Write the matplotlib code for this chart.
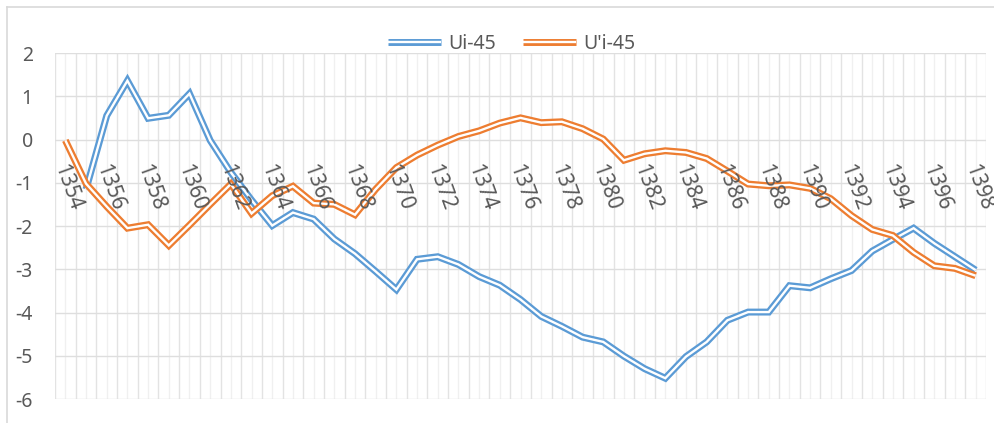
import numpy as np
import matplotlib
matplotlib.use("Agg")
import matplotlib.pyplot as plt
from matplotlib.lines import Line2D
from matplotlib.legend_handler import HandlerTuple
from matplotlib.transforms import ScaledTranslation

# data
years = list(range(1354, 1399))
ui_45 = [np.nan, -1.15, 0.55, 1.36, 0.49, 0.56, 1.06, -0.02, -0.76, -1.40,
         -1.99, -1.69, -1.84, -2.30, -2.64, -3.05, -3.47, -2.77, -2.71, -2.89,
         -3.17, -3.37, -3.70, -4.09, -4.32, -4.57, -4.68, -5.01, -5.30, -5.52,
         -5.02, -4.68, -4.18, -3.99, -3.99, -3.38, -3.43, -3.22, -3.03, -2.58,
         -2.31, -2.05, -2.40, -2.71, -3.02]
u_prime_45 = [-0.02, -1.02, -1.55, -2.05, -1.97, -2.45, -1.98, -1.50, -1.03, -1.71,
              -1.30, -1.08, -1.47, -1.50, -1.74, -1.15, -0.65, -0.36, -0.13, 0.07,
              0.20, 0.38, 0.50, 0.39, 0.41, 0.25, 0.01, -0.48, -0.33, -0.26,
              -0.30, -0.44, -0.73, -1.03, -1.07, -1.05, -1.13, -1.37, -1.76, -2.08,
              -2.22, -2.61, -2.92, -2.98, -3.15]
series_names = ["Ui-45", "U'i-45"]
series_colors = ["#5B9BD5", "#ED7D31"]
y_ticks = list(range(-6, 3))

plt.rcParams['font.family'] = ['Noto Sans', 'DejaVu Sans']
text_color = "#595959"

W, H = 995, 423
fig = plt.figure(figsize=(W / 100, H / 100), dpi=100)
ax = fig.add_axes([55 / W, 1 - 399 / H, (986 - 55) / W, (399 - 53) / H])
ax.set_axisbelow(False)  # year labels sit on top of the lines, as in Excel

x = np.arange(len(years))

# grid: category boundaries, category centres, value lines
for b in np.arange(len(years) + 1) - 0.5:
    ax.axvline(b, color="#e3e3e3", lw=1.0, zorder=0)
for c in x:
    ax.axvline(c, color="#f0f0f0", lw=1.0, zorder=0)
for v in y_ticks:
    ax.axhline(v, color="#dedede", lw=1.0, zorder=0)

# double ("compound") lines like Excel
handles = []
for vals, col in zip([ui_45, u_prime_45], series_colors):
    outer, = ax.plot(x, vals, color=col, lw=5.0, solid_joinstyle="miter",
                     solid_capstyle="butt", zorder=2)
    inner, = ax.plot(x, vals, color="white", lw=1.7, solid_joinstyle="miter",
                     solid_capstyle="butt", zorder=2)
    handles.append((outer, inner))

ax.set_xlim(-0.5, len(years) - 0.5)
ax.set_ylim(-6, 2)
ax.set_yticks(y_ticks)
ax.set_yticklabels([str(v) for v in y_ticks])
ax.set_xticks(x[::2])
ax.set_xticklabels([str(y) for y in years[::2]])

for s in ax.spines.values():
    s.set_visible(False)
ax.spines['bottom'].set_position(('data', 0))

ax.tick_params(axis='x', length=0, pad=16, labelsize=15, labelcolor=text_color)
ax.tick_params(axis='y', length=0, pad=16, labelsize=14, labelcolor=text_color)
shift = ScaledTranslation(3 / 72, 0, fig.dpi_scale_trans)
for lab in ax.get_xticklabels():
    lab.set_rotation(-70)
    lab.set_ha('left')
    lab.set_va('top')
    lab.set_rotation_mode('anchor')
    lab.set_transform(lab.get_transform() + shift)

fig.legend(handles, series_names, handler_map={tuple: HandlerTuple(ndivide=1)},
           loc='center', bbox_to_anchor=(512 / W, 1 - 44 / H), ncol=2,
           frameon=False, fontsize=14, labelcolor=text_color,
           handlelength=2.7, handletextpad=0.4, columnspacing=1.4)

# chart area border (top and left edges visible in the reference)
fig.add_artist(Line2D([7 / W, 1], [1 - 7 / H, 1 - 7 / H], color="#d9d9d9", lw=1.2))
fig.add_artist(Line2D([7 / W, 7 / W], [0, 1 - 7 / H], color="#d9d9d9", lw=1.2))

fig.savefig("out.png", dpi=100)
